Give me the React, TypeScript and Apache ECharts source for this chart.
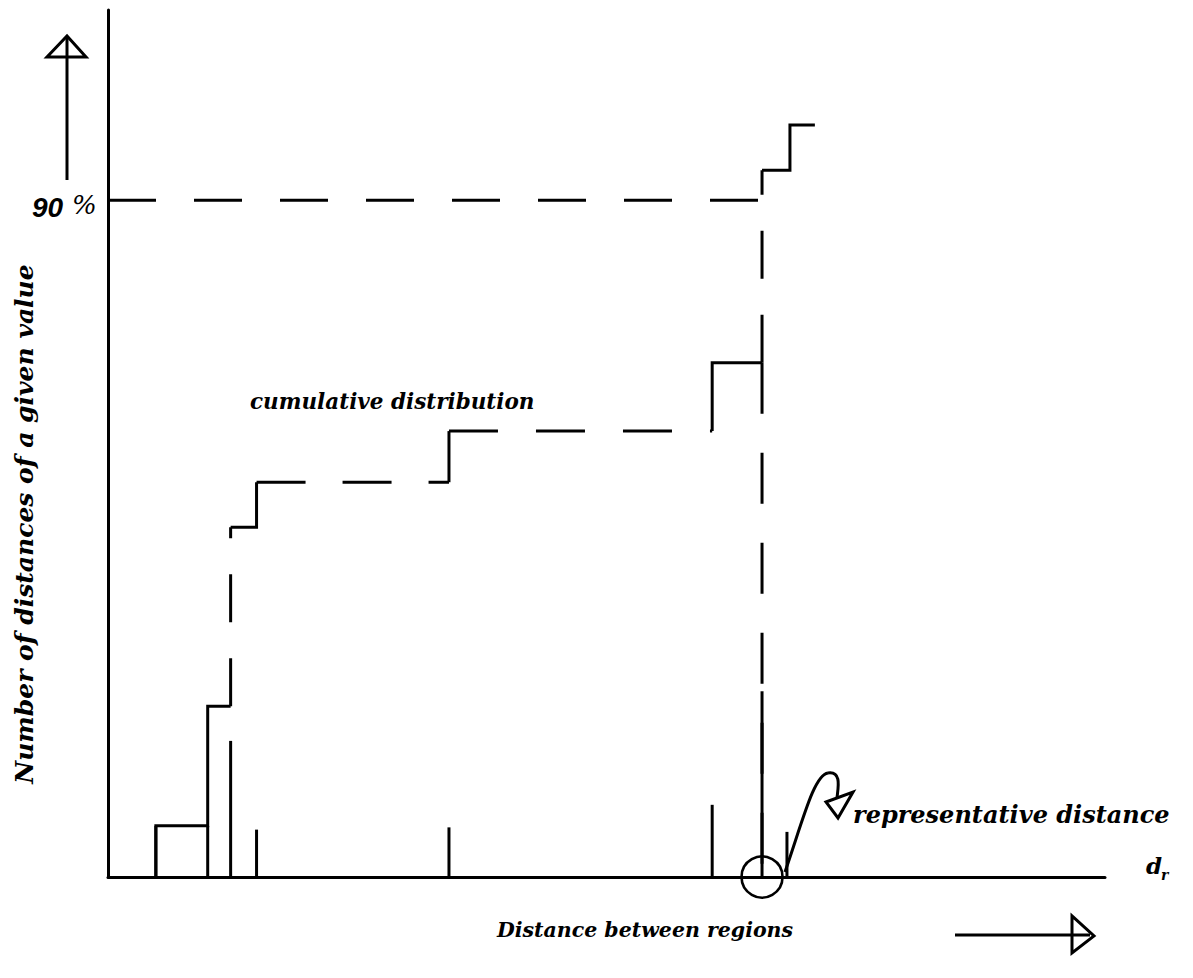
import React, { useEffect, useRef } from "react";
import * as echarts from "echarts";

// ---- data (x: distance units 0..100, y: percent of distances) ----
const stepX = [4.8, 10.0, 12.3, 14.9, 34.2, 60.6, 65.6, 68.4];
const stepY = [6.8, 22.7, 46.5, 52.5, 59.3, 68.4, 94.0, 100];
const stepEndX = 70.9;
const barX = [4.8, 10.0, 12.3, 14.9, 34.2, 60.6, 65.6, 68.1];
const barH = [6.8, 6.8, 18.1, 6.3, 6.6, 9.6, 24.7, 6.0];
const percentileLevel = 90;
const representativeX = 65.6;
const representativeY = 68.4;

const yAxisTitle = "Number of distances of a given value";
const xAxisTitle = "Distance between regions";
const curveLabel = "cumulative distribution";
const reprLabel = "representative distance";
const pctLabelNum = "90";
const pctLabelSign = "%";

const INK = "#000";
const LW = 3;
const SERIF = '"DejaVu Serif", serif';

export default function App() {
  const ref = useRef<HTMLDivElement>(null);
  useEffect(() => {
    if (!ref.current) return;
    const chart = echarts.init(ref.current, undefined, { renderer: "svg" });

    const pts: number[][] = [[stepX[0], 0]];
    stepX.forEach((x, i) => {
      pts.push([x, stepY[i]]);
      pts.push([i + 1 < stepX.length ? stepX[i + 1] : stepEndX, stepY[i]]);
    });
    const pieces: [number, number, number[] | null][] = [
      [0, 4, null],
      [4, 5, [48, 36]],
      [5, 7, null],
      [7, 8, [49, 37]],
      [8, 9, null],
      [9, 10, [49, 38]],
      [10, 12, null],
      [12, 13, [48, 36]],
      [13, 16, null],
    ];
    const cumSeries = pieces.map(([a, b, dash]) => ({
      type: "line",
      data: pts.slice(a, b + 1),
      symbol: "none",
      clip: false,
      silent: true,
      lineStyle: { color: INK, width: LW, type: dash ?? "solid", cap: "butt", join: "miter" },
    }));

    const txt = (o: any) => ({ type: "text", silent: true, ...o });

    chart.setOption({
      animation: false,
      backgroundColor: "#fff",
      grid: { left: 108, top: 10, width: 997, height: 867 },
      xAxis: {
        type: "value", min: 0, max: 100,
        axisLine: { show: true, lineStyle: { color: INK, width: LW } },
        axisTick: { show: false }, axisLabel: { show: false }, splitLine: { show: false },
      },
      yAxis: {
        type: "value", min: 0, max: 115.3,
        axisLine: { show: true, lineStyle: { color: INK, width: LW } },
        axisTick: { show: false }, axisLabel: { show: false }, splitLine: { show: false },
      },
      series: [
        {
          type: "custom",
          data: barX.map((x, i) => [x, barH[i]]),
          clip: false,
          silent: true,
          renderItem: (_p: any, api: any) => {
            const a = api.coord([api.value(0), 0]);
            const b = api.coord([api.value(0), api.value(1)]);
            return {
              type: "line",
              shape: { x1: a[0], y1: a[1], x2: b[0], y2: b[1] },
              style: { stroke: INK, lineWidth: LW },
            };
          },
        },
        ...cumSeries,
        {
          type: "line",
          data: [[0, percentileLevel], [representativeX, percentileLevel]],
          symbol: "none", clip: false, silent: true,
          lineStyle: { color: INK, width: LW, type: [48, 38] },
        },
        {
          type: "line",
          data: [[representativeX, representativeY], [representativeX, 0]],
          symbol: "none", clip: false, silent: true,
          lineStyle: { color: INK, width: LW, type: [51, 39] },
        },
        {
          type: "scatter",
          data: [[representativeX, 0]],
          symbol: "circle", symbolSize: 41, clip: false, silent: true,
          itemStyle: { color: "rgba(0,0,0,0)", borderColor: INK, borderWidth: 2.6, opacity: 1 },
        },
      ],
      graphic: [
        // up arrow
        { type: "line", silent: true, shape: { x1: 67, y1: 180, x2: 67, y2: 38 }, style: { stroke: INK, lineWidth: LW } },
        { type: "polygon", silent: true, shape: { points: [[47, 57], [86, 57], [67, 36]] }, style: { fill: "none", stroke: INK, lineWidth: LW } },
        // right arrow
        { type: "line", silent: true, shape: { x1: 955, y1: 935, x2: 1090, y2: 935 }, style: { stroke: INK, lineWidth: LW } },
        { type: "polygon", silent: true, shape: { points: [[1072, 916], [1072, 953], [1094, 936]] }, style: { fill: "none", stroke: INK, lineWidth: LW } },
        // curly pointer
        { type: "bezierCurve", silent: true, shape: { x1: 785, y1: 872, cpx1: 803, cpy1: 820, cpx2: 814, cpy2: 775, x2: 828, y2: 773 }, style: { fill: "none", stroke: INK, lineWidth: LW } },
        { type: "bezierCurve", silent: true, shape: { x1: 828, y1: 773, cpx1: 842, cpy1: 771, cpx2: 838, cpy2: 788, x2: 837, y2: 798 }, style: { fill: "none", stroke: INK, lineWidth: LW } },
        { type: "polygon", silent: true, shape: { points: [[826, 802], [853, 792], [838, 818]] }, style: { fill: "none", stroke: INK, lineWidth: LW } },
        // texts
        txt({ x: 24, y: 524, rotation: Math.PI / 2, style: { text: yAxisTitle, fill: INK, fontFamily: SERIF, fontStyle: "italic", fontWeight: "bold", fontSize: 25, textAlign: "center", textVerticalAlign: "middle" } }),
        txt({ x: 645, y: 930, style: { text: xAxisTitle, fill: INK, fontFamily: SERIF, fontStyle: "italic", fontWeight: "bold", fontSize: 20.5, textAlign: "center", textVerticalAlign: "middle" } }),
        txt({ x: 250, y: 401, style: { text: curveLabel, fill: INK, fontFamily: SERIF, fontStyle: "italic", fontWeight: "bold", fontSize: 21.5, textAlign: "left", textVerticalAlign: "middle" } }),
        txt({ x: 853, y: 814, style: { text: reprLabel, fill: INK, fontFamily: SERIF, fontStyle: "italic", fontWeight: "bold", fontSize: 24, textAlign: "left", textVerticalAlign: "middle" } }),
        txt({ x: 1146, y: 865, style: { text: "d", fill: INK, fontFamily: SERIF, fontStyle: "italic", fontWeight: "bold", fontSize: 23, textAlign: "left", textVerticalAlign: "middle" } }),
        txt({ x: 1161, y: 875, style: { text: "r", fill: INK, fontFamily: SERIF, fontStyle: "italic", fontWeight: "bold", fontSize: 14, textAlign: "left", textVerticalAlign: "middle" } }),
        txt({ x: 32, y: 207, style: { text: pctLabelNum, fill: INK, fontFamily: '"Liberation Sans", sans-serif', fontStyle: "italic", fontWeight: "bold", fontSize: 28, textAlign: "left", textVerticalAlign: "middle" } }),
        txt({ x: 72, y: 205, style: { text: pctLabelSign, fill: INK, fontFamily: SERIF, fontStyle: "italic", fontSize: 26, textAlign: "left", textVerticalAlign: "middle" } }),
      ],
    });
    return () => chart.dispose();
  }, []);
  return <div ref={ref} style={{ position: "fixed", left: 0, top: 0, width: 1193, height: 978, background: "#fff" }} />;
}
